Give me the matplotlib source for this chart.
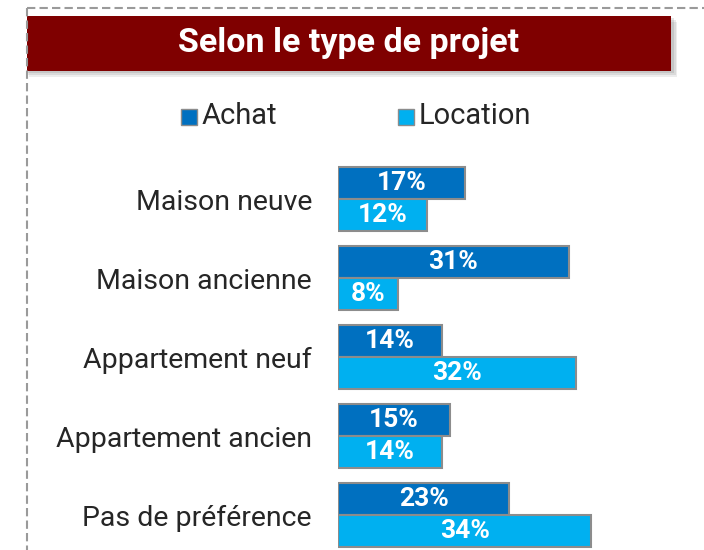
import matplotlib.pyplot as plt
from matplotlib.patches import Rectangle
from matplotlib.lines import Line2D
import numpy as np

plt.rcParams['font.family'] = ['Roboto', 'DejaVu Sans']

categories = ['Maison neuve', 'Maison ancienne', 'Appartement neuf',
              'Appartement ancien', 'Pas de préférence']
achat = [17, 31, 14, 15, 23]
location = [12, 8, 32, 14, 34]
series_names = ['Achat', 'Location']
title = 'Selon le type de projet'

c_achat = '#0070C0'
c_loc = '#00B0F0'
c_edge = '#8c8c8c'
c_banner = '#7F0000'

W, H = 704, 550
fig = plt.figure(figsize=(W / 100, H / 100), dpi=100)


def fx(x):
    return x / W


def fy(y):
    return 1 - y / H


# dashed frame (top and left)
fig.add_artist(Line2D([fx(27), fx(704)], [fy(8), fy(8)], color='#9a9a9a',
                      lw=1.5, ls=(0, (4, 2))))
fig.add_artist(Line2D([fx(27), fx(27)], [fy(8), fy(550)], color='#9a9a9a',
                      lw=1.5, ls=(0, (4, 2))))

# title banner with soft shadow
for i, a in enumerate([0.10, 0.12, 0.15]):
    d = 6 - i * 2
    fig.add_artist(Rectangle((fx(27 + d * 0.3), fy(71 + d)), fx(645 + d * 0.6), (71 - 16) / H,
                             facecolor='#555555', alpha=a, edgecolor='none'))
fig.add_artist(Rectangle((fx(27), fy(71)), fx(644), (71 - 16) / H,
                         facecolor=c_banner, edgecolor='none'))
fig.text(fx(349), fy(43), title, color='white', fontsize=24.5, fontweight='bold',
         ha='center', va='center')

# legend
for x0, name, col in [(181, series_names[0], c_achat), (398, series_names[1], c_loc)]:
    fig.add_artist(Rectangle((fx(x0), fy(125)), fx(16), 16 / H, facecolor=col,
                             edgecolor=c_edge, lw=1))
    fig.text(fx(x0 + 21), fy(116), name, color='#262626', fontsize=21,
             ha='left', va='center')

# bars
top_px, bot_px = 160, 550
ax = fig.add_axes([fx(338), fy(bot_px), fx(690 - 338), (bot_px - top_px) / H])
step = 79
px_per_unit = 7.45
ax.set_xlim(0, (690 - 338) / px_per_unit)
ax.set_ylim(4 + (bot_px - 515) / step, -(199 - top_px) / step)

y = np.arange(len(categories))
h = 32 / step
b1 = ax.barh(y - h / 2, achat, height=h, color=c_achat, edgecolor=c_edge, lw=1.5)
b2 = ax.barh(y + h / 2, location, height=h, color=c_loc, edgecolor=c_edge, lw=1.5)

for bars, vals in [(b1, achat), (b2, location)]:
    for r, v in zip(bars, vals):
        ax.text(v / 2, r.get_y() + r.get_height() / 2, f'{v}%', color='white',
                fontsize=19, fontweight='bold', ha='center', va='center')

ax.set_yticks(y)
ax.set_yticklabels(categories, fontsize=20.5, color='#262626')
ax.tick_params(axis='y', length=0, pad=26 * 72 / 100)
ax.set_xticks([])
for s in ax.spines.values():
    s.set_visible(False)
ax.patch.set_visible(False)

fig.savefig('out.png', dpi=100)
